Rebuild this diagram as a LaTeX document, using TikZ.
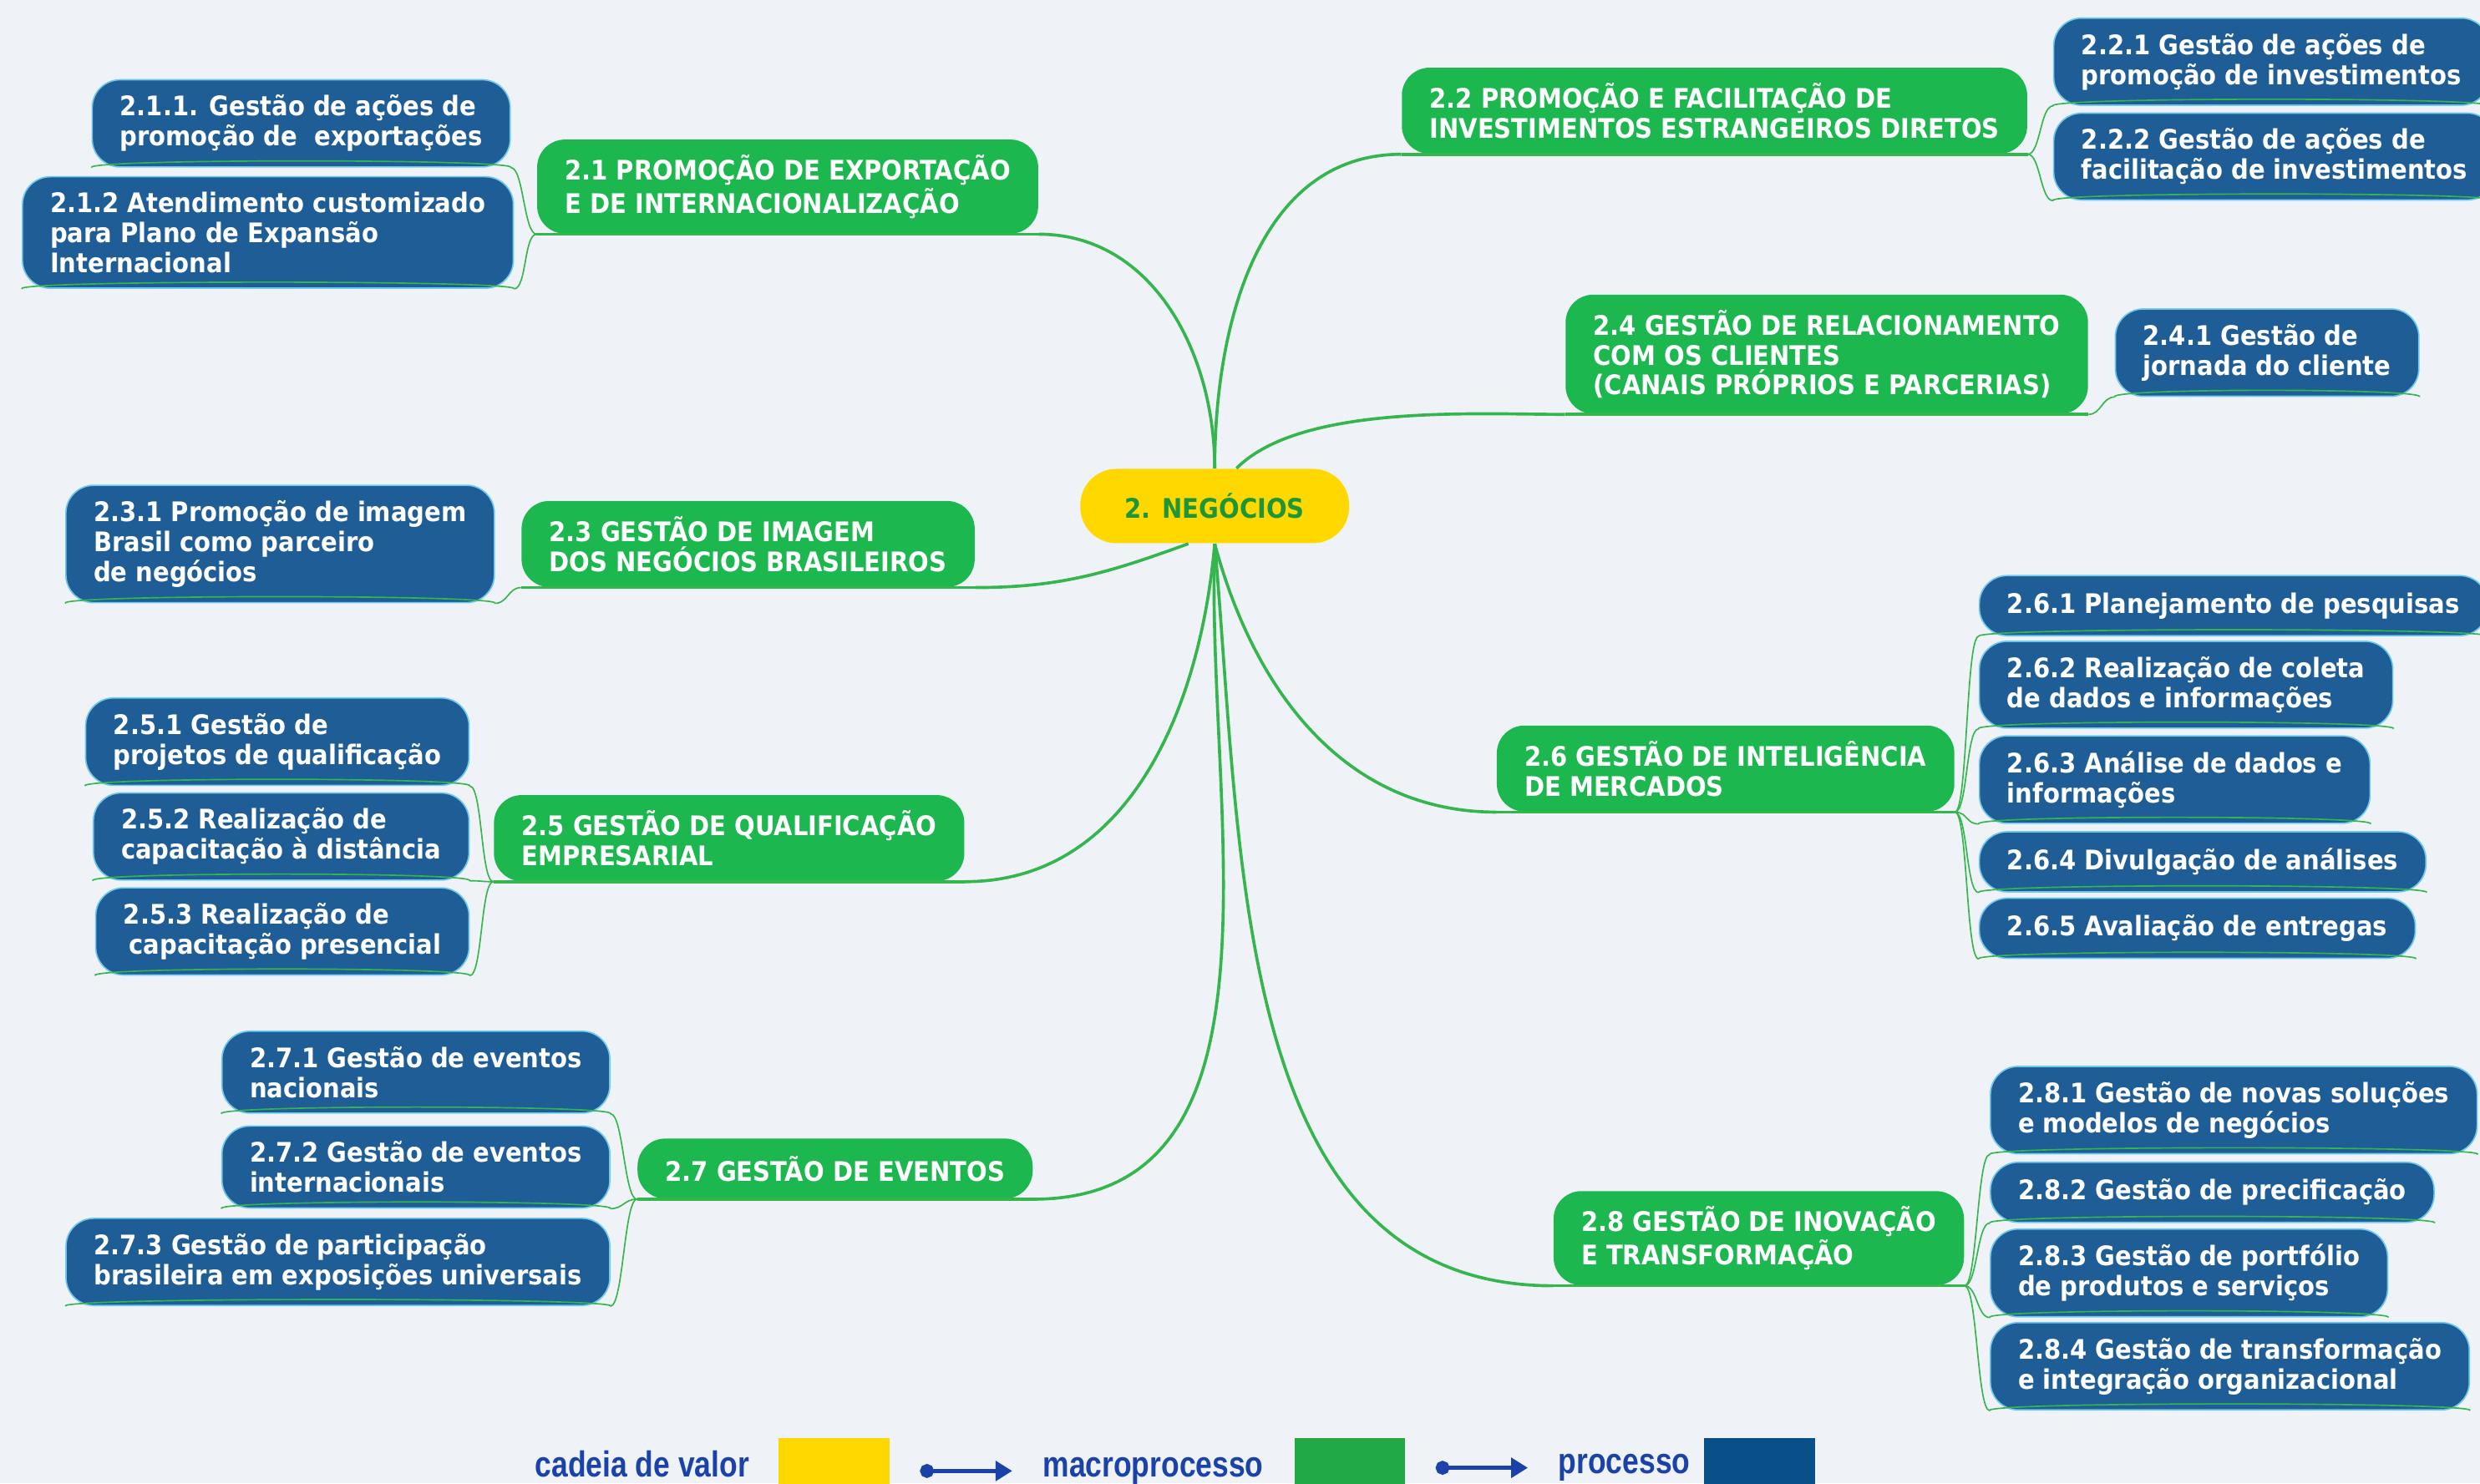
\documentclass[tikz,border=0pt]{standalone}
\usepackage{fontspec}
\setmainfont{DejaVu Sans Condensed}
\newfontfamily\legendfont[FakeStretch=0.82]{Liberation Sans}
\usepackage{tikz}
\usetikzlibrary{arrows.meta}
\definecolor{bgcol}{HTML}{EFF3F7}
\definecolor{negyellow}{HTML}{FFD800}
\definecolor{negtext}{HTML}{1E9638}
\definecolor{macrogreen}{HTML}{1DB74F}
\definecolor{procblue}{HTML}{1F5D97}
\definecolor{procedge}{HTML}{6FC9EE}
\definecolor{linegreen}{HTML}{34B54E}
\definecolor{legblue}{HTML}{1A42A8}
\definecolor{leggreen}{HTML}{21A847}
\definecolor{legnavy}{HTML}{0A5088}

\begin{document}
\begin{tikzpicture}[x=0.02cm,y=-0.02cm,
    boxfont/.style={font=\bfseries\fontsize{9.7}{10.8}\selectfont},
    root/.style={boxfont,fill=negyellow,text=negtext,rounded corners=13pt,minimum height=0.94cm,minimum width=3.4cm},
    macro/.style={boxfont,fill=macrogreen,text=white,rounded corners=10pt,align=left,inner xsep=10pt,inner ysep=5.5pt,minimum height=0.76cm},
    proc/.style={boxfont,fill=procblue,draw=procedge,line width=0.5pt,text=white,rounded corners=10pt,align=left,inner xsep=10pt,inner ysep=5.5pt,minimum height=0.76cm},
    branch/.style={draw=linegreen,line width=1.1pt},
    twig/.style={draw=linegreen,line width=0.5pt,distance=0.16cm},
    legtext/.style={text=legblue,font=\legendfont\bfseries\fontsize{13}{15}\selectfont,inner sep=0pt},
    legbox/.style={minimum width=1.4cm,minimum height=0.62cm,inner sep=0pt,anchor=north west},
    legarrow/.style={draw=legblue,line width=1.6pt,{Circle[length=5pt]}-{Triangle[length=6pt,width=7pt]},shorten <=0.38cm,shorten >=0.38cm}]
    \fill[bgcol] (0,0) rectangle (1568,938);
    \useasboundingbox (0,0) rectangle (1568,938);

    \node[root]              (neg)  at (768,320)  {2. NEGÓCIOS};

    \node[macro]             (m21)  at (498,118)  {2.1 PROMOÇÃO DE EXPORTAÇÃO\\E DE INTERNACIONALIZAÇÃO};
    \node[macro]             (m22)  at (1084,70)  {2.2 PROMOÇÃO E FACILITAÇÃO DE\\INVESTIMENTOS ESTRANGEIROS DIRETOS};
    \node[macro]             (m23)  at (473,344)  {2.3 GESTÃO DE IMAGEM\\DOS NEGÓCIOS BRASILEIROS};
    \node[macro]             (m24)  at (1155,224) {2.4 GESTÃO DE RELACIONAMENTO\\COM OS CLIENTES\\(CANAIS PRÓPRIOS E PARCERIAS)};
    \node[macro]             (m25)  at (461,530)  {2.5 GESTÃO DE QUALIFICAÇÃO\\EMPRESARIAL};
    \node[macro]             (m26)  at (1091,486) {2.6 GESTÃO DE INTELIGÊNCIA\\DE MERCADOS};
    \node[macro]             (m27)  at (528,739)  {2.7 GESTÃO DE EVENTOS};
    \node[macro]             (m28)  at (1112,783) {2.8 GESTÃO DE INOVAÇÃO\\E TRANSFORMAÇÃO};

    \node[proc,anchor=east]  (p211) at (323,78)   {2.1.1. Gestão de ações de\\promoção de~ exportações};
    \node[proc,anchor=east]  (p212) at (325,147)  {2.1.2 Atendimento customizado\\para Plano de Expansão\\Internacional};
    \node[proc,anchor=west]  (p221) at (1298,39)  {2.2.1 Gestão de ações de\\promoção de investimentos};
    \node[proc,anchor=west]  (p222) at (1298,99)  {2.2.2 Gestão de ações de\\facilitação de investimentos};
    \node[proc,anchor=east]  (p231) at (313,344)  {2.3.1 Promoção de imagem\\Brasil como parceiro\\de negócios};
    \node[proc,anchor=west]  (p241) at (1337,223) {2.4.1 Gestão de\\jornada do cliente};
    \node[proc,anchor=east]  (p251) at (297,469)  {2.5.1 Gestão de\\projetos de qualificação};
    \node[proc,anchor=east]  (p252) at (297,529)  {2.5.2 Realização de\\capacitação à distância};
    \node[proc,anchor=east]  (p253) at (297,589)  {2.5.3 Realização de\\\hspace{2pt}capacitação presencial};
    \node[proc,anchor=west]  (p261) at (1251,383) {2.6.1 Planejamento de pesquisas};
    \node[proc,anchor=west]  (p262) at (1251,433) {2.6.2 Realização de coleta\\de dados e informações};
    \node[proc,anchor=west]  (p263) at (1251,493) {2.6.3 Análise de dados e\\informações};
    \node[proc,anchor=west]  (p264) at (1251,545) {2.6.4 Divulgação de análises};
    \node[proc,anchor=west]  (p265) at (1251,587) {2.6.5 Avaliação de entregas};
    \node[proc,anchor=east]  (p271) at (386,678)  {2.7.1 Gestão de eventos\\nacionais};
    \node[proc,anchor=east]  (p272) at (386,738)  {2.7.2 Gestão de eventos\\internacionais};
    \node[proc,anchor=east]  (p273) at (386,798)  {2.7.3 Gestão de participação\\brasileira em exposições universais};
    \node[proc,anchor=west]  (p281) at (1258,702) {2.8.1 Gestão de novas soluções\\e modelos de negócios};
    \node[proc,anchor=west]  (p282) at (1258,754) {2.8.2 Gestão de precificação};
    \node[proc,anchor=west]  (p283) at (1258,805) {2.8.3 Gestão de portfólio\\de produtos e serviços};
    \node[proc,anchor=west]  (p284) at (1258,864) {2.8.4 Gestão de transformação\\e integração organizacional};

    \path (neg.north) edge[branch,out=90,in=0]    (m21.south east)
                      edge[branch,out=90,in=180]  (m22.south west)
          (neg.60)    edge[branch,out=45,in=180,looseness=0.7] (m24.south west)
          (neg.235)   edge[branch,out=200,in=0]   (m23.south east)
          (neg.south) edge[branch,out=265,in=0]   (m25.south east)
                      edge[branch,out=268,in=0]   (m27.south east)
                      edge[branch,out=285,in=180] (m26.south west)
                      edge[branch,out=275,in=180] (m28.south west);
    \foreach \m in {m21,m22,m23,m24,m25,m26,m27,m28}
      \path (\m.south east) edge[branch] (\m.south west);

    \path (m21.south west) edge[twig,out=180,in=0] (p211.south east)
                           edge[twig,out=180,in=0] (p212.south east)
          (m23.south west) edge[twig,out=180,in=0] (p231.south east)
          (m25.south west) edge[twig,out=180,in=0] (p251.south east)
                           edge[twig,out=180,in=0] (p252.south east)
                           edge[twig,out=180,in=0] (p253.south east)
          (m27.south west) edge[twig,out=180,in=0] (p271.south east)
                           edge[twig,out=180,in=0] (p272.south east)
                           edge[twig,out=180,in=0] (p273.south east)
          (m22.south east) edge[twig,out=0,in=180] (p221.south west)
                           edge[twig,out=0,in=180] (p222.south west)
          (m24.south east) edge[twig,out=0,in=180] (p241.south west)
          (m26.south east) edge[twig,out=0,in=180] (p261.south west)
                           edge[twig,out=0,in=180] (p262.south west)
                           edge[twig,out=0,in=180] (p263.south west)
                           edge[twig,out=0,in=180] (p264.south west)
                           edge[twig,out=0,in=180] (p265.south west)
          (m28.south east) edge[twig,out=0,in=180] (p281.south west)
                           edge[twig,out=0,in=180] (p282.south west)
                           edge[twig,out=0,in=180] (p283.south west)
                           edge[twig,out=0,in=180] (p284.south west);
    \foreach \p in {p211,p212,p221,p222,p231,p241,p251,p252,p253,p261,p262,p263,p264,p265,p271,p272,p273,p281,p282,p283,p284}
      \path (\p.south east) edge[twig] (\p.south west);

    \node[legtext,anchor=base west] (lval)  at (338,934)  {cadeia de valor};
    \node[legbox,fill=negyellow]    (bval)  at (492,909)  {};
    \node[legtext,anchor=base west] (lmac)  at (659,934)  {macroprocesso};
    \node[legbox,fill=leggreen]     (bmac)  at (818,909)  {};
    \node[legtext,anchor=base west] (lproc) at (985,932)  {processo};
    \node[legbox,fill=legnavy]      (bproc) at (1077,909) {};
    \path (bval.east |- lmac.west) edge[legarrow] (lmac.west)
          (bmac.east |- lproc.west) edge[legarrow] (lproc.west);
\end{tikzpicture}
\end{document}
